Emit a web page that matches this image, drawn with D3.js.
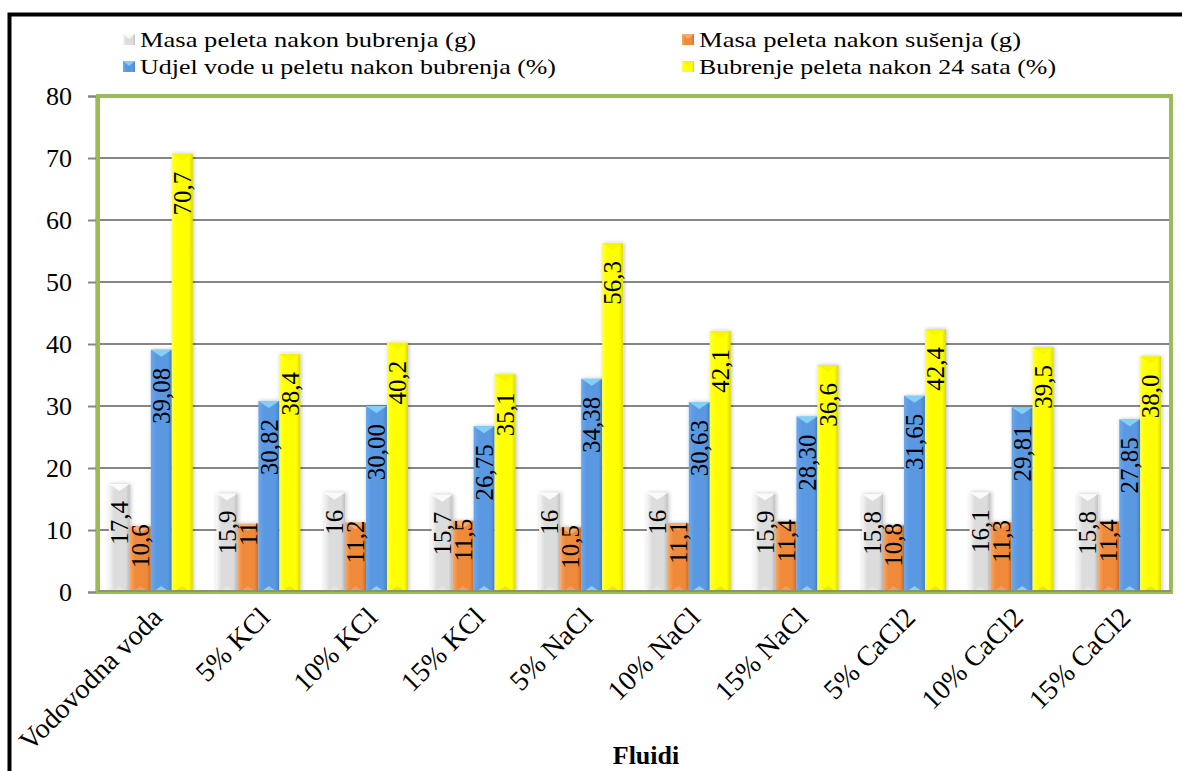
<!DOCTYPE html>
<html>
<head>
<meta charset="utf-8">
<script src="https://cdn.jsdelivr.net/npm/d3@7/dist/d3.min.js"></script>
<style>
  html, body { margin: 0; padding: 0; background: #fff; }
  svg { display: block; }
  svg text { font-family: 'Liberation Serif', 'Times New Roman', serif !important; fill: #000; }
</style>
</head>
<body>
<svg id="chart" width="1182" height="771"></svg>
<script>
// ---------- data ----------
const categories = ["Vodovodna voda", "5% KCl", "10% KCl", "15% KCl", "5% NaCl", "10% NaCl", "15% NaCl", "5% CaCl2", "10% CaCl2", "15% CaCl2"];
const seriesNames = [
  "Masa peleta nakon bubrenja (g)",
  "Masa peleta nakon sušenja (g)",
  "Udjel vode u peletu nakon bubrenja (%)",
  "Bubrenje peleta nakon 24 sata (%)"
];
const masaBubrenja = [17.4, 15.9, 16, 15.7, 16, 16, 15.9, 15.8, 16.1, 15.8];
const masaSusenja  = [10.6, 11, 11.2, 11.5, 10.5, 11.1, 11.4, 10.8, 11.3, 11.4];
const udjelVode    = [39.08, 30.82, 30.00, 26.75, 34.38, 30.63, 28.30, 31.65, 29.81, 27.85];
const bubrenje24   = [70.7, 38.4, 40.2, 35.1, 56.3, 42.1, 36.6, 42.4, 39.5, 38.0];
const yTicks = [0, 10, 20, 30, 40, 50, 60, 70, 80];
const xTitle = "Fluidi";

// ---------- setup ----------
const SERIF = "'Liberation Serif', 'Times New Roman', serif";
const svg = d3.select("#chart").style("font-family", SERIF);
const W = 1182, H = 771;
const plot = { left: 98, right: 1171, top: 96, bottom: 592 };

const locale = d3.formatLocale({ decimal: ",", thousands: ".", grouping: [3], currency: ["", ""] });
const seriesValues = [masaBubrenja, masaSusenja, udjelVode, bubrenje24];
const seriesFormats = [locale.format("~f"), locale.format("~f"), locale.format(".2f"), locale.format(".1f")];
const seriesStyle = [
  { id: "g0", c: ["#f6f6f6", "#dcdcdc", "#c2c2c2"], tri: "#ffffff", triB: "#e6e6e6", pad: 17 },
  { id: "g1", c: ["#f8a865", "#f08a3a", "#d9722a"], tri: "#f9b27a", triB: "#f4a060", pad: -2 },
  { id: "g2", c: ["#6aa9ee", "#5a99e2", "#4a86cc"], tri: "#8ad9fb", triB: "#8ad9fb", pad: 18 },
  { id: "g3", c: ["#ffff40", "#ffff00", "#dada00"], tri: "#f4f400", triB: "#e8e800", pad: 18 }
];

const x0 = d3.scaleBand().domain(categories).range([97, 1173]).paddingInner(0.22).paddingOuter(0.11);
const x1 = d3.scaleBand().domain(d3.range(seriesNames.length)).range([0, x0.bandwidth()]);
const y = d3.scaleLinear().domain([0, 80]).range([plot.bottom, plot.top]);

svg.append("rect").attr("width", W).attr("height", H).attr("fill", "#fff");

// defs
const defs = svg.append("defs");
seriesStyle.forEach(s => {
  const g = defs.append("linearGradient").attr("id", s.id).attr("x1", "0").attr("x2", "1").attr("y1", "0").attr("y2", "0");
  g.append("stop").attr("offset", "0%").attr("stop-color", s.c[0]);
  g.append("stop").attr("offset", "25%").attr("stop-color", s.c[1]);
  g.append("stop").attr("offset", "80%").attr("stop-color", s.c[1]);
  g.append("stop").attr("offset", "100%").attr("stop-color", s.c[2]);
});
const f = defs.append("filter").attr("id", "shadow").attr("x", "-30%").attr("y", "-10%").attr("width", "160%").attr("height", "120%");
f.append("feGaussianBlur").attr("in", "SourceAlpha").attr("stdDeviation", 2).attr("result", "b");
f.append("feOffset").attr("in", "b").attr("dx", 1).attr("dy", 0).attr("result", "o");
f.append("feComponentTransfer").attr("in", "o").attr("result", "t")
  .append("feFuncA").attr("type", "linear").attr("slope", 0.25);
const fm = f.append("feMerge");
fm.append("feMergeNode").attr("in", "t");
fm.append("feMergeNode").attr("in", "SourceGraphic");

// outer black frame
svg.append("rect").attr("x", 9.5).attr("y", 14.5).attr("width", 1200).attr("height", 800)
  .attr("fill", "none").attr("stroke", "#000").attr("stroke-width", 4);

// gridlines
svg.append("g").selectAll("line").data(yTicks.filter(t => t > 0 && t < 80)).join("line")
  .attr("x1", plot.left).attr("x2", plot.right)
  .attr("y1", d => y(d)).attr("y2", d => y(d))
  .attr("stroke", "#868686").attr("stroke-width", 2);

// y axis
const yAxis = d3.axisLeft(y).tickValues(yTicks).tickSize(8).tickPadding(16).tickFormat(d3.format("d"));
const ya = svg.append("g").attr("transform", `translate(96,0)`).call(yAxis);
ya.attr("font-family", null).attr("font-size", null);
ya.select(".domain").attr("stroke", "#868686").attr("stroke-width", 2);
ya.selectAll(".tick line").attr("stroke", "#868686").attr("stroke-width", 2);
ya.selectAll(".tick text").style("font-size", "26px").style("font-family", SERIF).attr("fill", "#000");

// bars
const groups = svg.append("g").selectAll("g").data(categories).join("g")
  .attr("transform", d => `translate(${x0(d)},0)`);

groups.each(function (cat, ci) {
  const g = d3.select(this);
  seriesValues.forEach((vals, si) => {
    const v = vals[ci];
    const s = seriesStyle[si];
    const bx = x1(si), bw = x1.bandwidth(), by = y(v), bh = y(0) - y(v);
    g.append("rect").attr("x", bx).attr("y", by).attr("width", bw).attr("height", bh)
      .attr("fill", `url(#${s.id})`).attr("filter", "url(#shadow)");
    g.append("path")
      .attr("d", `M${bx},${by} L${bx + bw},${by} L${bx + bw / 2},${by + 7} Z`)
      .attr("fill", s.tri).attr("opacity", 0.85);
    g.append("path")
      .attr("d", `M${bx + 2},${y(0)} L${bx + bw - 2},${y(0)} L${bx + bw / 2},${y(0) - 6} Z`)
      .attr("fill", s.triB).attr("opacity", 0.9);
  });
});

// value labels
groups.each(function (cat, ci) {
  const g = d3.select(this);
  seriesValues.forEach((vals, si) => {
    const v = vals[ci];
    const s = seriesStyle[si];
    const cx = x1(si) + x1.bandwidth() / 2;
    g.append("text")
      .attr("transform", `translate(${cx},${y(v) + s.pad}) rotate(-90)`)
      .attr("text-anchor", "end").attr("dy", "0.35em")
      .style("font-size", "25px").style("font-family", SERIF)
      .text(seriesFormats[si](v));
  });
});

// plot area border
svg.append("rect").attr("x", plot.left).attr("y", plot.top)
  .attr("width", plot.right - plot.left).attr("height", plot.bottom - plot.top)
  .attr("fill", "none").attr("stroke", "#9bbb59").attr("stroke-width", 4);
svg.append("line").attr("x1", plot.left).attr("x2", plot.right).attr("y1", plot.bottom - 1).attr("y2", plot.bottom - 1)
  .attr("stroke", "#868686").attr("stroke-width", 1.5);

// x labels
svg.append("g").selectAll("text").data(categories).join("text")
  .attr("transform", d => `translate(${x0(d) + x0.bandwidth() / 2 + 13},${619}) rotate(-45)`)
  .attr("text-anchor", "end")
  .style("font-size", "28px").style("font-family", SERIF)
  .text(d => d);

// x title
svg.append("text").attr("x", 646).attr("y", 764).attr("text-anchor", "middle")
  .style("font-size", "26px").style("font-family", SERIF).attr("font-weight", "bold").text(xTitle);

// legend
const legendPos = [
  { x: 123, y: 47, len: 336 },
  { x: 682, y: 47, len: 322 },
  { x: 123, y: 74, len: 416 },
  { x: 682, y: 74, len: 357 }
];
const lg = svg.append("g").selectAll("g").data(seriesNames).join("g")
  .attr("transform", (d, i) => `translate(${legendPos[i].x},${legendPos[i].y})`);
lg.append("rect").attr("x", 0).attr("y", -13).attr("width", 12).attr("height", 11)
  .attr("fill", (d, i) => `url(#${seriesStyle[i].id})`);
lg.append("path").attr("d", "M0,-13 L6,-8 L12,-13 Z").attr("fill", (d, i) => seriesStyle[i].tri).attr("opacity", 0.8);
lg.append("text").attr("x", 17).attr("y", 0)
  .style("font-size", "21px").style("font-family", SERIF)
  .attr("textLength", (d, i) => legendPos[i].len).attr("lengthAdjust", "spacingAndGlyphs")
  .text(d => d);
</script>
</body>
</html>
